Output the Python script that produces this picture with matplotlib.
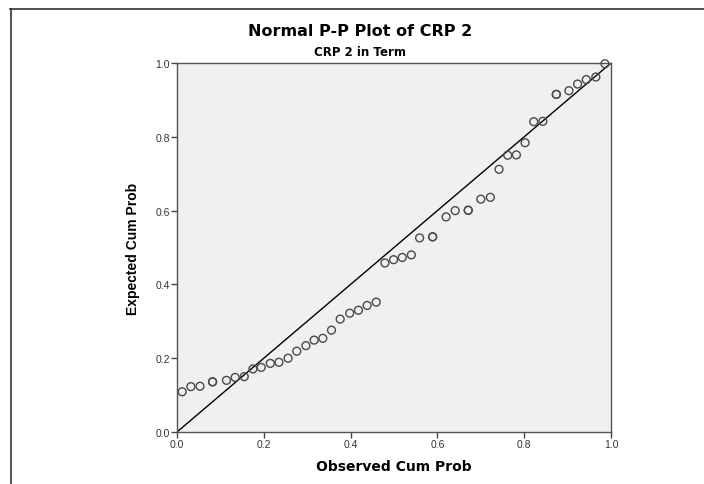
import matplotlib
matplotlib.use("Agg")
import matplotlib.pyplot as plt
from matplotlib.lines import Line2D

plt.rcParams['font.family'] = ['Liberation Sans', 'DejaVu Sans']

# observed vs expected cumulative probabilities
observed = [0.012, 0.032, 0.053, 0.082, 0.082, 0.114, 0.134, 0.155, 0.175, 0.194,
            0.215, 0.235, 0.256, 0.276, 0.297, 0.316, 0.336, 0.356, 0.376, 0.398,
            0.418, 0.438, 0.459, 0.479, 0.499, 0.519, 0.540, 0.559, 0.589, 0.589,
            0.620, 0.641, 0.671, 0.671, 0.700, 0.722, 0.742, 0.762, 0.782, 0.802,
            0.822, 0.843, 0.874, 0.874, 0.903, 0.923, 0.943, 0.965, 0.986]
expected = [0.109, 0.123, 0.124, 0.136, 0.136, 0.140, 0.148, 0.150, 0.171, 0.175,
            0.186, 0.189, 0.200, 0.219, 0.234, 0.249, 0.254, 0.276, 0.306, 0.322,
            0.330, 0.343, 0.352, 0.458, 0.467, 0.473, 0.480, 0.526, 0.529, 0.529,
            0.583, 0.600, 0.601, 0.601, 0.631, 0.636, 0.712, 0.750, 0.751, 0.784,
            0.841, 0.842, 0.915, 0.915, 0.925, 0.943, 0.955, 0.962, 0.998]
ticks = [0.0, 0.2, 0.4, 0.6, 0.8, 1.0]
tick_labels = ['0.0', '0.2', '0.4', '0.6', '0.8', '1.0']

wide = ['DejaVu Sans']

fig = plt.figure(figsize=(7.04, 4.85), dpi=100)
ax = fig.add_axes([0.2514, 0.1072, 0.6165, 0.7608])
ax.set_facecolor('#F0F0F0')

ax.plot([0, 1], [0, 1], color='black', lw=1.0, zorder=2)
ax.scatter(observed, expected, s=32, facecolors='none', edgecolors='#4a4a4a',
           linewidths=1.0, zorder=3, clip_on=False)

ax.set_xlim(0, 1)
ax.set_ylim(0, 1)
ax.set_xticks(ticks)
ax.set_xticklabels(tick_labels)
ax.set_yticks(ticks)
ax.set_yticklabels(tick_labels)
ax.tick_params(direction='out', length=4, width=1, color='#444444',
               labelsize=7.5, labelcolor='#333333', pad=1)
for s in ax.spines.values():
    s.set_color('#555555')
    s.set_linewidth(1.0)

ax.set_xlabel('Observed Cum Prob', fontsize=10, fontweight='bold', labelpad=7,
              family=wide)
ax.set_ylabel('Expected Cum Prob', fontsize=10, fontweight='bold', labelpad=11)

fig.text(0.511, 1 - 32 / 485, 'Normal P-P Plot of CRP 2', ha='center', va='center',
         fontsize=11.5, fontweight='bold', family=wide)
fig.text(0.511, 1 - 53 / 485, 'CRP 2 in Term', ha='center', va='center',
         fontsize=8.5, fontweight='bold', family=wide)

# outer frame (top and left edges)
fig.add_artist(Line2D([10 / 704, 1.0], [1 - 10 / 485, 1 - 10 / 485],
                      transform=fig.transFigure, color='#333333', lw=1.2))
fig.add_artist(Line2D([11 / 704, 11 / 704], [0.0, 1 - 10 / 485],
                      transform=fig.transFigure, color='#333333', lw=1.2))

fig.savefig('out.png', dpi=100)
